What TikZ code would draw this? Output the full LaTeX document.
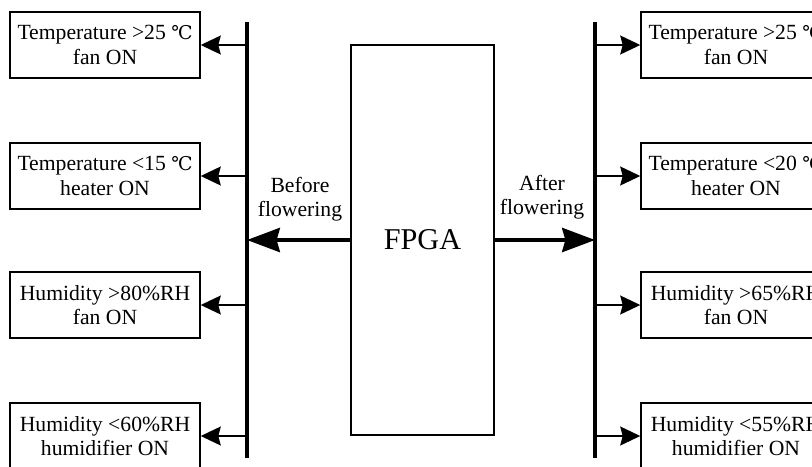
\documentclass[tikz,border=0pt]{standalone}
\usepackage{fontspec}
\setmainfont{Liberation Serif}
\newfontfamily\degfont{DejaVu Serif}
\usetikzlibrary{arrows.meta, positioning}

\newcommand{\degC}{{\degfont\fontsize{13.5}{15}\selectfont ℃}}

\begin{document}
\begin{tikzpicture}[auto, thick, >=stealth]
		
		% Define block styles
		\tikzstyle{cond} = [rectangle, draw, line width=1pt, minimum width=4.75cm, minimum height=1.65cm, inner sep=2pt, align=center, font=\fontsize{15.4}{17.4}\selectfont]
		\tikzstyle{chip} = [rectangle, draw, line width=1pt, minimum width=3.575cm, minimum height=9.75cm, font=\fontsize{21.5}{24}\selectfont]
		\tikzstyle{bus} = [line width=2.8pt]
		\tikzstyle{smallarrow} = [line width=1.6pt, -{Stealth[length=0.5cm, width=0.47cm, inset=0.06cm]}]
		\tikzstyle{bigarrow} = [line width=3pt, -{Stealth[length=0.82cm, width=0.6cm, inset=0.08cm]}]
		\tikzstyle{phase} = [align=center, font=\fontsize{15.4}{17}\selectfont]
		
		\clip (0,0) rectangle (20.3,-11.65);
		
		% Nodes
		\node[chip] (fpga) at (10.5625,-6.0) {FPGA};
		
		\node[cond] (lb1) at (2.625,-1.125) {Temperature >25 \degC\\fan ON};
		\node[cond] (lb2) at (2.625,-4.4) {Temperature <15 \degC\\heater ON};
		\node[cond] (lb3) at (2.625,-7.625) {Humidity >80\%RH\\fan ON};
		\node[cond] (lb4) at (2.625,-10.9) {Humidity <60\%RH\\humidifier ON};
		
		\node[cond] (rb1) at (18.4,-1.125) {Temperature >25 \degC\\fan ON};
		\node[cond] (rb2) at (18.4,-4.4) {Temperature <20 \degC\\heater ON};
		\node[cond] (rb3) at (18.4,-7.625) {Humidity >65\%RH\\fan ON};
		\node[cond] (rb4) at (18.4,-10.9) {Humidity <55\%RH\\humidifier ON};
		
		% Buses
		\coordinate (ltop) at (6.175,-0.55);
		\coordinate (lbot) at (6.175,-11.45);
		\coordinate (rtop) at (14.875,-0.55);
		\coordinate (rbot) at (14.875,-11.45);
		\draw[bus] (ltop) -- (lbot);
		\draw[bus] (rtop) -- (rbot);
		
		% Arrows
		\draw[bigarrow] (fpga.west) -- (fpga.west -| ltop);
		\draw[bigarrow] (fpga.east) -- (fpga.east -| rtop);
		
		\draw[smallarrow] (lb1.east -| ltop) -- (lb1.east);
		\draw[smallarrow] (lb2.east -| ltop) -- (lb2.east);
		\draw[smallarrow] (lb3.east -| ltop) -- (lb3.east);
		\draw[smallarrow] (lb4.east -| ltop) -- (lb4.east);
		
		\draw[smallarrow] (rb1.west -| rtop) -- (rb1.west);
		\draw[smallarrow] (rb2.west -| rtop) -- (rb2.west);
		\draw[smallarrow] (rb3.west -| rtop) -- (rb3.west);
		\draw[smallarrow] (rb4.west -| rtop) -- (rb4.west);
		
		% Labels
		\node[phase] (before) at (7.5,-4.975) {Before\\flowering};
		\node[phase] (after) at (13.55,-4.925) {After\\flowering};
		
	\end{tikzpicture}
\end{document}
